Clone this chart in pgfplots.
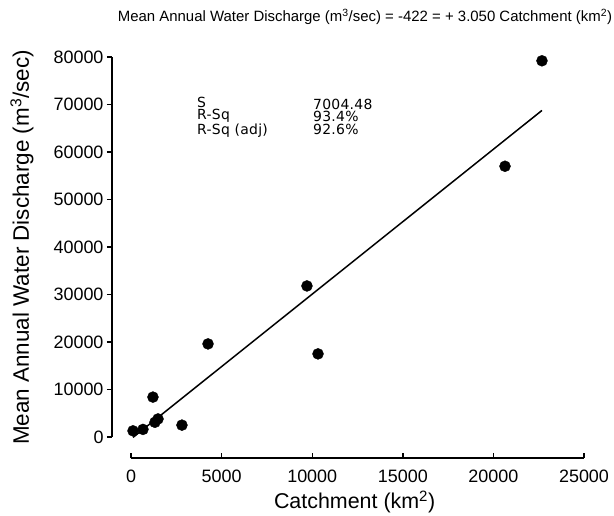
\documentclass[border=0pt]{standalone}
\usepackage{fontspec}
\setmainfont{Liberation Sans}
\newfontfamily\statfont[LetterSpace=2]{DejaVu Sans}
\usepackage{pgfplots}
\pgfplotsset{compat=1.18}

\begin{document}
\begin{tikzpicture}
\begin{axis}[
  scale only axis, width=472bp, height=401bp,
  xmin=-1050, xmax=25000, ymin=-4420, ymax=80000,
  axis x line*=bottom, axis y line*=left,
  axis line style={draw=none},
  xtick={0,5000,...,25000}, ytick={0,10000,...,80000},
  xtick align=inside, ytick align=outside,
  major tick length=5bp,
  tick style={black, line width=1.4bp},
  scaled ticks=false,
  /pgf/number format/.cd, 1000 sep={}, assume math mode=true, /pgfplots/.cd,
  tick label style={font=\fontsize{18}{20}\selectfont},
  xticklabel style={yshift=-8bp},
  clip=false,
]
% fitted points
\addplot[only marks, mark=*, mark size=5.5bp, black] coordinates {
  (110,1300) (660,1600) (1210,8400) (1320,3100) (1490,3800)
  (2810,2500) (4250,19600) (9710,31800) (10320,17500)
  (20640,57000) (22680,79200)
};
% regression line: -422 + 3.050 x over the data range
\addplot[black, line width=1.5bp] coordinates {(110,-86) (22680,68752)};

% detached range-frame axis lines
\draw[line width=1.4bp] (axis cs:-1050,0) -- (axis cs:-1050,80000);
\draw[line width=1.4bp] (axis cs:0,-4420) -- (axis cs:25000,-4420);

% fit statistics
\node[anchor=west, inner sep=0pt, align=left, font=\statfont\fontsize{14}{12.6}\selectfont]
  at (axis cs:3640,67400) {S\\R-Sq\\R-Sq (adj)};
\node[anchor=west, inner sep=0pt, align=left, font=\statfont\fontsize{14}{12.6}\selectfont]
  at (axis cs:10040,67400) {7004.48\\93.4\%\\92.6\%};

% title and axis labels
\node[font=\fontsize{15}{17}\selectfont] at (axis description cs:0.536,1.1)
  {Mean Annual Water Discharge (m\textsuperscript{3}/sec) = -422 = + 3.050 Catchment (km\textsuperscript{2})};
\node[font=\fontsize{21.5}{23}\selectfont] at (axis description cs:0.514,-0.11)
  {Catchment (km\textsuperscript{2})};
\node[font=\fontsize{22.5}{24}\selectfont, rotate=90] at (axis description cs:-0.191,0.525)
  {Mean Annual Water Discharge (m\textsuperscript{3}/sec)};
\end{axis}
\pgfresetboundingbox
\path[use as bounding box] ([shift={(-112bp,-58bp)}]current axis.south west)
  rectangle ([shift={(502bp,458bp)}]current axis.south west);
\end{tikzpicture}
\end{document}
